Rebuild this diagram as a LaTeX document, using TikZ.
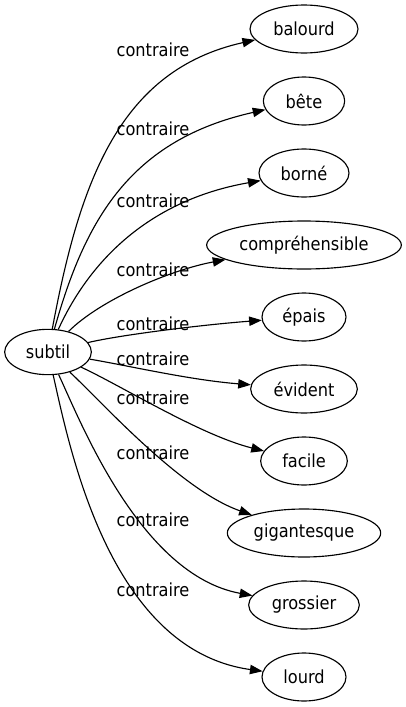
\documentclass[tikz,border=0pt]{standalone}
\usepackage{fontspec}
\setmainfont{DejaVu Sans Condensed}
\usetikzlibrary{shapes.geometric,arrows.meta}
\begin{document}
\begin{tikzpicture}[x=0.75pt, y=-0.75pt, >={Triangle[length=9.5pt,width=7pt]}, line width=0.85pt,
    mot/.style={draw, ellipse, minimum height=36pt, inner sep=0pt, font=\fontsize{13.5pt}{15pt}\selectfont},
    lien/.style={font=\fontsize{13.5pt}{15pt}\selectfont, inner sep=0pt}]
\useasboundingbox (0,0) rectangle (406,707);
\node[mot, minimum width=65pt, minimum height=34pt] (subtil) at (48,352) {subtil};
% mots contraires
\node[mot, minimum width=81pt] (balourd) at (304,29) {balourd};
\node[mot, minimum width=61pt] (bete) at (304,101) {bête};
\node[mot, minimum width=67.5pt] (borne) at (304,173) {borné};
\node[mot, minimum width=146pt] (compr) at (304,245) {compréhensible};
\node[mot, minimum width=63pt] (epais) at (304,317) {épais};
\node[mot, minimum width=80pt] (evident) at (304,389) {évident};
\node[mot, minimum width=65pt] (facile) at (304,461) {facile};
\node[mot, minimum width=115pt] (gigant) at (304,533) {gigantesque};
\node[mot, minimum width=83pt] (grossier) at (304,605) {grossier};
\node[mot, minimum width=63pt] (lourd) at (304,677) {lourd};
% aretes
\draw[->] (subtil) .. controls (80,180) and (120,70) .. (balourd);
\node[lien] (l1) at (153,50) {contraire};
\draw[->] (subtil) .. controls (85,220) and (130,140) .. (bete);
\node[lien] (l2) at (153,129) {contraire};
\draw[->] (subtil) .. controls (90,260) and (150,200) .. (borne);
\node[lien] (l3) at (153,201) {contraire};
\draw[->] (subtil) .. controls (100,300) and (170,270) .. (compr);
\node[lien] (l4) at (153,270) {contraire};
\draw[->] (subtil) .. controls (120,335) and (200,325) .. (epais);
\node[lien] (l5) at (153,324) {contraire};
\draw[->] (subtil) .. controls (130,366) and (190,380) .. (evident);
\node[lien] (l6) at (153,359) {contraire};
\draw[->] (subtil) .. controls (120,385) and (200,435) .. (facile);
\node[lien] (l7) at (153,398) {contraire};
\draw[->] (subtil) .. controls (100,400) and (180,490) .. (gigant);
\node[lien] (l8) at (153,453) {contraire};
\draw[->] (subtil) .. controls (80,420) and (140,575) .. (grossier);
\node[lien] (l9) at (153,520) {contraire};
\draw[->] (subtil) .. controls (70,450) and (110,650) .. (lourd);
\node[lien] (l10) at (153,590) {contraire};
\end{tikzpicture}
\end{document}
